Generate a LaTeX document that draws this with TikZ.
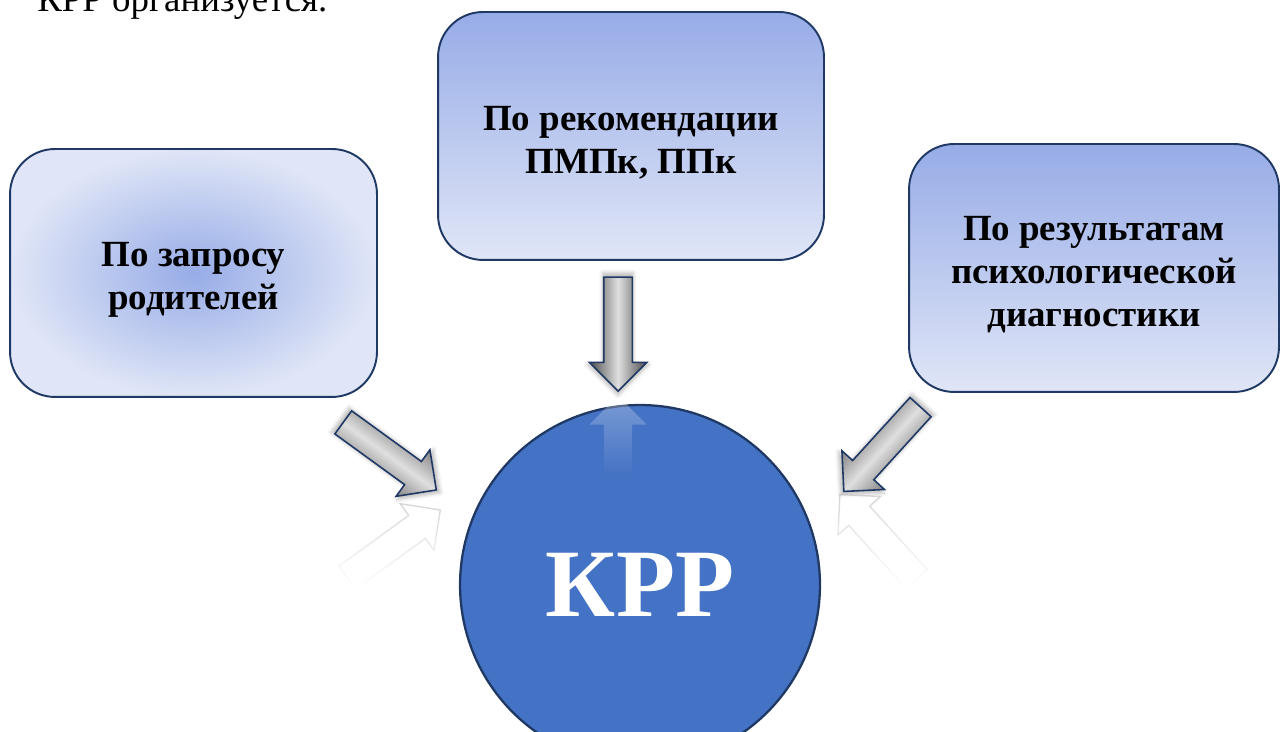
\documentclass[tikz,border=0pt]{standalone}
\usepackage{fontspec}
\setmainfont{Liberation Serif}
\usepackage{tikz}
\usetikzlibrary{shapes.arrows,positioning,fadings,shadows.blur}

\definecolor{krrblue}{HTML}{4472C4}
\definecolor{navy}{HTML}{1F3864}
\definecolor{boxdark}{HTML}{97ACE7}
\definecolor{boxlight}{HTML}{E0E6F7}

\tikzfading[name=reflfade, top color=transparent!25, middle color=transparent!80, bottom color=transparent!100]

\begin{document}
\begin{tikzpicture}
    [
    x=0.02cm, y=0.02cm,
    box/.style = {draw=navy, line width=1.1pt, rectangle, minimum height=4.96cm, rounded corners=0.9cm, inner sep=0pt},
    boxtext/.style = {align=center, yshift=-0.14cm, font=\fontsize{21}{24.5}\selectfont\bfseries},
    radbox/.style = {box, inner color=boxdark, outer color=boxlight},
    linbox/.style = {box, top color=boxdark, bottom color=boxlight},
    bigarrow/.style = {single arrow, draw=navy, line width=0.9pt, inner xsep=0pt, inner ysep=0.27cm, single arrow head extend=0.29cm, left color=black!70, right color=black!70, middle color=gray!25, blur shadow={shadow xshift=0pt, shadow yshift=0pt, shadow scale=1.08, shadow opacity=25}},
    mirror/.style = {single arrow, draw=gray!70, fill=white, line width=0.8pt, inner xsep=0pt, inner ysep=0.27cm, single arrow head extend=0.29cm, path fading=reflfade, opacity=0.6}
    ]
    \useasboundingbox (0,0) rectangle (1280,732);

% Nodes
    \node[anchor=base west, inner sep=0pt, font=\fontsize{21}{24}\selectfont] (title) at (37,720) {КРР организуется.};
    \node[radbox, minimum width=7.34cm, label={[boxtext]center:{По запросу\\родителей}}] (parents) at (193.5,459) {};
    \node[linbox, minimum width=7.72cm, label={[boxtext]center:{По рекомендации\\ПМПк, ППк}}] (pmpk) at (631,596) {};
    \node[linbox, minimum width=7.4cm, label={[boxtext]center:{По результатам\\психологической\\диагностики}}] (diag) at (1094,464) {};
    \node[circle, fill=krrblue, draw=navy, line width=1.3pt, minimum size=7.2cm, text=white, font=\fontsize{55}{55}\selectfont\bfseries] (krr) at (640,147) {КРР};

% Arrows
    \node[bigarrow, minimum height=2.3cm, rotate=-36, shading angle=-36] (arrL) at (384,280) {};
    \node[bigarrow, minimum height=2.28cm, rotate=-90, shading angle=-90] (arrT) at (618,405) {};
    \node[bigarrow, minimum height=2.28cm, rotate=-132.3, shading angle=-132.3] (arrR) at (887,288) {};

% Reflections
    \node[mirror, minimum height=2.3cm, rotate=36] (refL) at (388,184) {};
    \node[mirror, minimum height=2.28cm, rotate=132.3] (refR) at (883,190) {};
    \node[mirror, draw=none, opacity=0.4, minimum height=1.6cm, rotate=90] (refT) at (618,289) {};

\end{tikzpicture}
\end{document}
